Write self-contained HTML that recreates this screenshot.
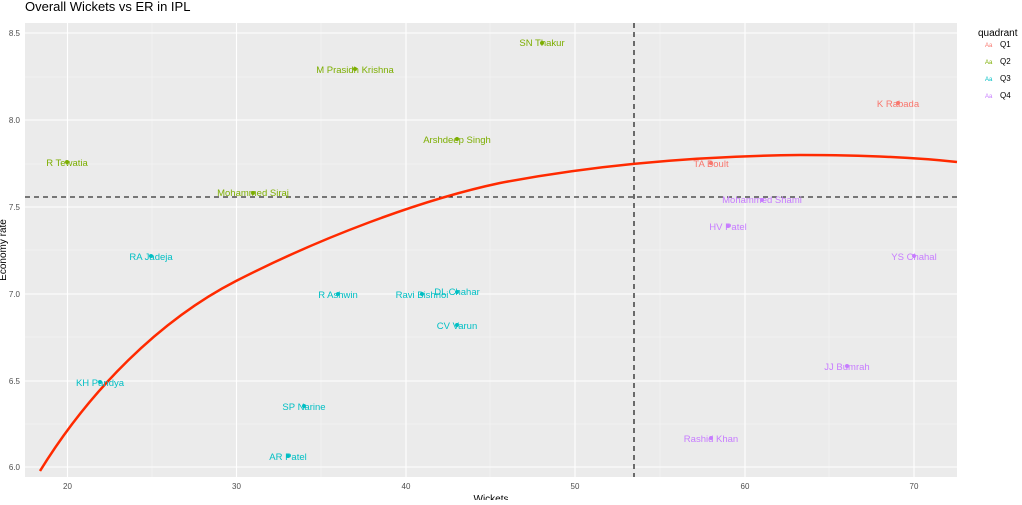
<!DOCTYPE html>
<html><head><style>body{margin:0;background:#fff}</style></head><body>
<svg width="1022" height="500" xmlns="http://www.w3.org/2000/svg" font-family="Liberation Sans, DejaVu Sans, sans-serif">
<text x="25" y="11" font-size="13" fill="#000">Overall Wickets vs ER in IPL</text>
<rect x="25" y="23" width="932" height="454" fill="#ebebeb"/>
<g stroke="#f5f5f5" stroke-width="0.6">
<line x1="25" x2="957" y1="424" y2="424"/><line x1="25" x2="957" y1="337" y2="337"/><line x1="25" x2="957" y1="250" y2="250"/><line x1="25" x2="957" y1="164" y2="164"/><line x1="25" x2="957" y1="77" y2="77"/>
<line y1="23" y2="477" x1="152" x2="152"/><line y1="23" y2="477" x1="321" x2="321"/><line y1="23" y2="477" x1="490" x2="490"/><line y1="23" y2="477" x1="660" x2="660"/><line y1="23" y2="477" x1="829" x2="829"/>
</g>
<g stroke="#fff" stroke-width="1.1">
<line x1="25" x2="957" y1="467" y2="467"/><line x1="25" x2="957" y1="381" y2="381"/><line x1="25" x2="957" y1="294" y2="294"/><line x1="25" x2="957" y1="207" y2="207"/><line x1="25" x2="957" y1="120" y2="120"/><line x1="25" x2="957" y1="33" y2="33"/>
<line y1="23" y2="477" x1="67.5" x2="67.5"/><line y1="23" y2="477" x1="236.5" x2="236.5"/><line y1="23" y2="477" x1="406" x2="406"/><line y1="23" y2="477" x1="575" x2="575"/><line y1="23" y2="477" x1="745" x2="745"/><line y1="23" y2="477" x1="914" x2="914"/>
</g>
<g font-size="8" fill="#4d4d4d" text-anchor="end">
<text x="20" y="470">6.0</text><text x="20" y="384">6.5</text><text x="20" y="297">7.0</text><text x="20" y="210">7.5</text><text x="20" y="123">8.0</text><text x="20" y="36">8.5</text>
</g>
<g font-size="8" fill="#4d4d4d" text-anchor="middle">
<text x="67.5" y="489">20</text><text x="236.5" y="489">30</text><text x="406" y="489">40</text><text x="575" y="489">50</text><text x="745" y="489">60</text><text x="914" y="489">70</text>
</g>
<text x="6" y="250" font-size="10" transform="rotate(-90 6 250)" text-anchor="middle">Economy rate</text>
<text x="491" y="502" font-size="10" text-anchor="middle">Wickets</text>
<line x1="634" x2="634" y1="23" y2="477" stroke="#000" stroke-width="1.1" stroke-dasharray="5,4"/>
<line x1="25" x2="957" y1="197" y2="197" stroke="#000" stroke-width="1.1" stroke-dasharray="5,4"/>
<path fill="none" stroke="#ff2a00" stroke-width="2.5" d="M40,471 C90,390 160,320 236,281 C320,238 420,200 500,183 C600,164 700,156 800,155 C870,155 920,158 957,162"/>
<g font-size="9.5" text-anchor="middle">
<g fill="#7CAE00">
<circle cx="542" cy="43" r="2"/><text x="542" y="46">SN Thakur</text>
<circle cx="355" cy="69" r="2"/><text x="355" y="73">M Prasidh Krishna</text>
<circle cx="457" cy="139" r="2"/><text x="457" y="143">Arshdeep Singh</text>
<circle cx="67" cy="162" r="2"/><text x="67" y="166">R Tewatia</text>
<circle cx="253" cy="193" r="2"/><text x="253" y="196">Mohammed Siraj</text>
</g>
<g fill="#F8766D">
<circle cx="898" cy="103" r="2"/><text x="898" y="107">K Rabada</text>
<circle cx="711" cy="163" r="2"/><text x="711" y="167">TA Boult</text>
</g>
<g fill="#C77CFF">
<circle cx="762" cy="200" r="2"/><text x="762" y="203">Mohammed Shami</text>
<circle cx="728" cy="226" r="2"/><text x="728" y="230">HV Patel</text>
<circle cx="914" cy="256" r="2"/><text x="914" y="260">YS Chahal</text>
<circle cx="847" cy="366" r="2"/><text x="847" y="370">JJ Bumrah</text>
<circle cx="711" cy="438" r="2"/><text x="711" y="442">Rashid Khan</text>
</g>
<g fill="#00BFC4">
<circle cx="151" cy="256" r="2"/><text x="151" y="260">RA Jadeja</text>
<circle cx="338" cy="294" r="2"/><text x="338" y="298">R Ashwin</text>
<circle cx="422" cy="294" r="2"/><text x="422" y="298">Ravi Bishnoi</text>
<circle cx="457" cy="292" r="2"/><text x="457" y="295">DL Chahar</text>
<circle cx="457" cy="325" r="2"/><text x="457" y="329">CV Varun</text>
<circle cx="100" cy="382" r="2"/><text x="100" y="386">KH Pandya</text>
<circle cx="304" cy="406" r="2"/><text x="304" y="410">SP Narine</text>
<circle cx="288" cy="456" r="2"/><text x="288" y="460">AR Patel</text>
</g>
</g>
<text x="978" y="36" font-size="10">quadrant</text>
<g font-size="6"><text x="985" y="47" fill="#F8766D">Aa</text><text x="985" y="64" fill="#7CAE00">Aa</text><text x="985" y="81" fill="#00BFC4">Aa</text><text x="985" y="98" fill="#C77CFF">Aa</text></g>
<g font-size="8" fill="#000"><text x="1000" y="47">Q1</text><text x="1000" y="64">Q2</text><text x="1000" y="81">Q3</text><text x="1000" y="98">Q4</text></g>
</svg>
</body></html>
